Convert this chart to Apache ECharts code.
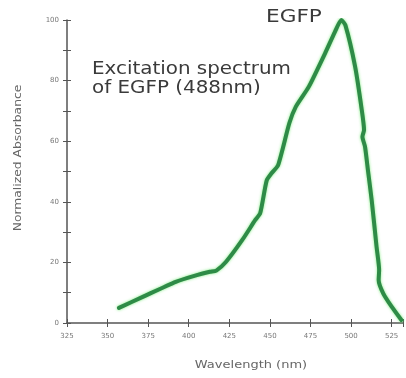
<!DOCTYPE html>
<html>
<head>
<meta charset="utf-8">
<script src="https://cdn.jsdelivr.net/npm/echarts@6/dist/echarts.min.js"></script>
<style>
  html, body { margin: 0; padding: 0; background: #fff; }
  #chart { width: 406px; height: 378px; }
</style>
</head>
<body>
<div id="chart"></div>
<script>
// wavelength (nm) vs normalized absorbance
const wavelengths = [357, 372, 392, 405, 413, 417, 423, 433, 441, 444, 448, 451, 455, 462, 466, 474, 484, 490, 494, 496.5, 502.5, 506.6, 508, 507, 508.6, 510.5, 512.7, 515.7, 517.3, 517, 519.8, 525, 531];
const absorbance  = [5, 8.7, 13.6, 15.8, 16.9, 17.3, 20.2, 27.4, 34, 36.2, 47, 49.4, 52, 66, 71.4, 78, 89, 96, 100, 98.3, 84.6, 70.3, 63.7, 61.5, 58.2, 50, 40.6, 25.2, 17.5, 14.2, 9.8, 5.4, 1];
const xTicks = [325, 350, 375, 400, 425, 450, 475, 500, 525];
const yTicks = [0, 20, 40, 60, 80, 100];

const chart = echarts.init(document.getElementById('chart'), null, { renderer: 'canvas' });

const axisGray = '#555';
const labelGray = '#777';

chart.setOption({
  animation: false,
  grid: { left: 67, right: 1, top: 20, bottom: 55 },
  xAxis: [{
    type: 'value', min: 325, max: 532, interval: 25,
    axisLine: { lineStyle: { color: axisGray, width: 1.5 } },
    axisTick: { length: 4, lineStyle: { color: axisGray } },
    axisLabel: {
      color: labelGray, fontSize: 7, fontFamily: 'DejaVu Sans', margin: 10,
      formatter: v => (xTicks.includes(v) ? String(v) : '')
    },
    splitLine: { show: false }
  }, {
    // second copy only to make ticks cross the axis line
    type: 'value', min: 325, max: 532, interval: 25, position: 'bottom',
    axisLine: { show: false },
    axisTick: { inside: true, length: 4, lineStyle: { color: axisGray } },
    axisLabel: { show: false },
    splitLine: { show: false }
  }],
  yAxis: [{
    type: 'value', min: 0, max: 100, interval: 20,
    axisLine: { show: true, lineStyle: { color: axisGray, width: 1.5 } },
    axisTick: { show: true, length: 4, lineStyle: { color: axisGray } },
    minorTick: { show: true, splitNumber: 2, length: 4, lineStyle: { color: axisGray } },
    axisLabel: {
      color: labelGray, fontSize: 7, fontFamily: 'DejaVu Sans', margin: 8,
      formatter: v => (yTicks.includes(v) ? String(v) : '')
    },
    splitLine: { show: false }
  }, {
    type: 'value', min: 0, max: 100, interval: 20, position: 'left',
    axisLine: { show: false },
    axisTick: { show: true, inside: true, length: 4, lineStyle: { color: axisGray } },
    minorTick: { show: true, splitNumber: 2, length: 4, lineStyle: { color: axisGray } },
    axisLabel: { show: false },
    splitLine: { show: false }
  }],
  graphic: [{
    type: 'text', x: 92, y: 60, scaleX: 1.17,
    style: {
      text: 'Excitation spectrum\nof EGFP (488nm)',
      fill: '#3a3a3a', font: '17px "DejaVu Sans"', lineHeight: 19
    }
  }, {
    type: 'text', x: 266, y: 8, scaleX: 1.2,
    style: { text: 'EGFP', fill: '#3a3a3a', font: '18px "DejaVu Sans"' }
  }, {
    // axis titles, drawn as text so they can be widened like the original
    type: 'text', x: 251, y: 365, scaleX: 1.3,
    style: {
      text: 'Wavelength (nm)', fill: '#666', font: '10px "DejaVu Sans"',
      align: 'center', verticalAlign: 'middle'
    }
  }, {
    type: 'text', x: 18, y: 158, rotation: Math.PI / 2, scaleX: 1.12,
    style: {
      text: 'Normalized Absorbance', fill: '#666', font: '11px "DejaVu Sans"',
      align: 'center', verticalAlign: 'middle'
    }
  }],
  series: [{
    type: 'line',
    data: wavelengths.map((w, i) => [w, absorbance[i]]),
    showSymbol: false,
    smooth: 0.2,
    lineStyle: {
      color: '#2e8b47', width: 4, cap: 'round', join: 'round',
      shadowColor: 'rgba(90,230,90,0.8)', shadowBlur: 3
    }
  }]
});
</script>
</body>
</html>
